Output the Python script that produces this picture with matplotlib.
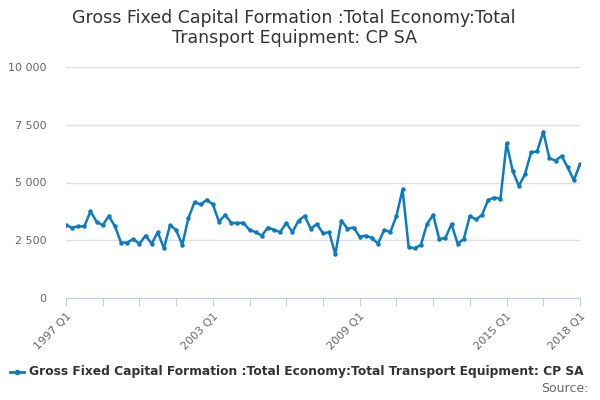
import matplotlib
matplotlib.use("Agg")
import matplotlib.pyplot as plt

values = [3150, 3050, 3100, 3100,
 3750, 3300, 3150, 3550,
 3100, 2400, 2400, 2550,
 2350, 2700, 2350, 2850,
 2150, 3150, 2950, 2300,
 3450, 4150, 4050, 4250,
 4050, 3300, 3600, 3250,
 3250, 3250, 2950, 2850,
 2700, 3050, 2950, 2850,
 3250, 2850, 3350, 3550,
 3000, 3200, 2800, 2850,
 1900, 3350, 3000, 3050,
 2650, 2700, 2600, 2350,
 2950, 2850, 3550, 4700,
 2200, 2150, 2300, 3200,
 3600, 2550, 2600, 3200,
 2350, 2550, 3550, 3400,
 3600, 4250, 4350, 4300,
 6700, 5500, 4850, 5350,
 6300, 6350, 7200, 6050,
 5950, 6150, 5650, 5100,
 5800]
labels = {0: "1997 Q1", 24: "2003 Q1", 48: "2009 Q1", 72: "2015 Q1", 84: "2018 Q1"}
yticks = [0, 2500, 5000, 7500, 10000]
ylabels = ["0", "2 500", "5 000", "7 500", "10 000"]
title = "Gross Fixed Capital Formation :Total Economy:Total\nTransport Equipment: CP SA"
series = "Gross Fixed Capital Formation :Total Economy:Total Transport Equipment: CP SA"

color = "#0a7cc1"
fig = plt.figure(figsize=(6, 4), dpi=100)
ax = fig.add_axes([66/600, 1-298/400, 514/600, 231/400])
x = list(range(len(values)))
ax.plot(x, values, color=color, lw=1.8, marker="o", ms=2.2)
ax.set_xlim(0, 84)
ax.set_ylim(0, 10000)
ax.set_yticks(yticks)
ax.set_yticklabels(ylabels, fontsize=8, color="#666666")
ax.yaxis.grid(True, color="#e0e0e0", lw=1)
ax.tick_params(axis="y", length=0, pad=14)
ax.set_xticks(list(range(0, 85, 6)))
ax.set_xticklabels([labels.get(i, "") for i in range(0, 85, 6)], rotation=45, ha="right",
                   rotation_mode="anchor", fontsize=8, color="#666666")
ax.tick_params(axis="x", length=6, color="#c0d0e0")
for s in ["top", "right", "left"]:
    ax.spines[s].set_visible(False)
ax.spines["bottom"].set_color("#c0d0e0")
ax.set_axisbelow(True)
fig.text(0.49, 0.93, title, ha="center", va="center", fontsize=12.5, color="#333333")
fig.lines.append(plt.Line2D([10/600, 24/600], [1-372/400]*2, color=color, lw=2, transform=fig.transFigure))
fig.lines.append(plt.Line2D([17/600], [1-372/400], color=color, marker="o", ms=3, transform=fig.transFigure))
fig.text(29/600, 1-372/400, series, fontsize=8.8, fontweight="bold", color="#333333", va="center")
fig.text(588/600, 1-389/400, "Source:", fontsize=9, color="#666666", va="center", ha="right")
fig.savefig("out.png")
